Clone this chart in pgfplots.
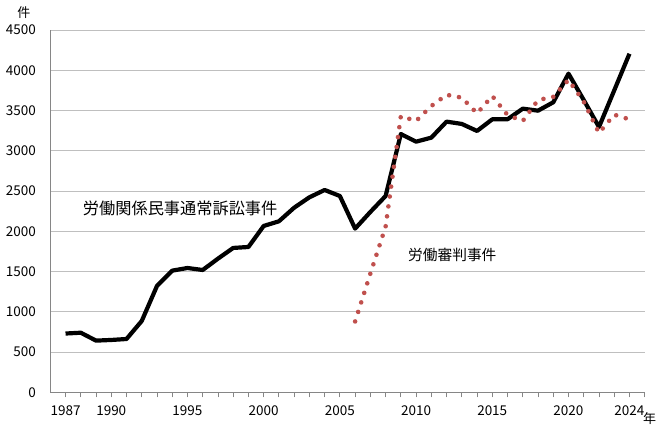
\documentclass[border=0pt]{standalone}
\usepackage{fontspec}
\setmainfont{Noto Sans CJK JP}
\usepackage{pgfplots}
\pgfplotsset{compat=1.18}
\definecolor{gridc}{RGB}{191,191,191}
\definecolor{axc}{RGB}{134,134,134}
\definecolor{redc}{RGB}{192,80,77}
\pgfplotstableread{
year val
1987 730
1988 740
1989 642
1990 650
1991 662
1992 886
1993 1321
1994 1511
1995 1544
1996 1519
1997 1660
1998 1793
1999 1805
2000 2066
2001 2124
2002 2293
2003 2422
2004 2513
2005 2438
2006 2033
2007 2240
2008 2438
2009 3208
2010 3113
2011 3163
2012 3362
2013 3333
2014 3246
2015 3391
2016 3391
2017 3523
2018 3498
2019 3602
2020 3958
2021 3630
2022 3295
2023 3750
2024 4205
}\civil
\pgfplotstableread{
year val
2006 880
2007 1475
2008 2058
2009 3430
2010 3370
2011 3556
2012 3695
2013 3660
2014 3465
2015 3680
2016 3444
2017 3370
2018 3630
2019 3670
2020 3880
2021 3610
2022 3221
2023 3448
2024 3390
}\shinpan
\begin{document}
\begin{tikzpicture}
\path[use as bounding box] (-50.3pt,-40.7pt) rectangle (618.7pt,392.3pt);
\begin{axis}[
  at={(0,0)}, anchor=south west,
  scale only axis, width=594.4pt, height=362.3pt,
  xmin=1986, xmax=2025, ymin=0, ymax=4500,
  axis x line*=bottom, axis y line*=left,
  axis line style={draw=axc, line width=0.8pt, -},
  clip=false,
  ymajorgrids, grid style={gridc, line width=0.8pt},
  ytick={0,500,...,4500},
  ytick style={draw=none},
  xtick={1987,...,2025},
  xticklabels={1987,,,1990,,,,,1995,,,,,2000,,,,,2005,,,,,2010,,,,,2015,,,,,2020,,,,2024,},
  x tick style={draw=axc, line width=0.8pt},
  tick align=outside, major tick length=5pt,
  tick label style={font=\fontsize{13.5}{13.5}\selectfont},
  /pgf/number format/assume math mode=true,
  /pgf/number format/1000 sep={},
  yticklabel style={xshift=-6pt},
  xticklabel style={yshift=-5pt},
]
\addplot[black, line width=4.2pt, line join=round] table[x=year,y=val]{\civil};
\addplot[redc, line width=4.6pt, line cap=round, dash pattern=on 0pt off 10pt] table[x=year,y=val]{\shinpan};
\node[anchor=west, font=\fontsize{16.2}{16.2}\selectfont, inner sep=0pt] at (axis cs:1988.13,2289) {労働関係民事通常訴訟事件};
\node[anchor=west, font=\fontsize{14.7}{14.7}\selectfont, inner sep=0pt] at (axis cs:2009.47,1705) {労働審判事件};
\node[font=\fontsize{13}{13}\selectfont, inner sep=0pt] at (rel axis cs:0,1) [xshift=-26.3pt, yshift=17pt] {件};
\node[font=\fontsize{13}{13}\selectfont, inner sep=0pt] at (rel axis cs:1,0) [xshift=5pt, yshift=-26pt] {年};
\end{axis}
\end{tikzpicture}
\end{document}
